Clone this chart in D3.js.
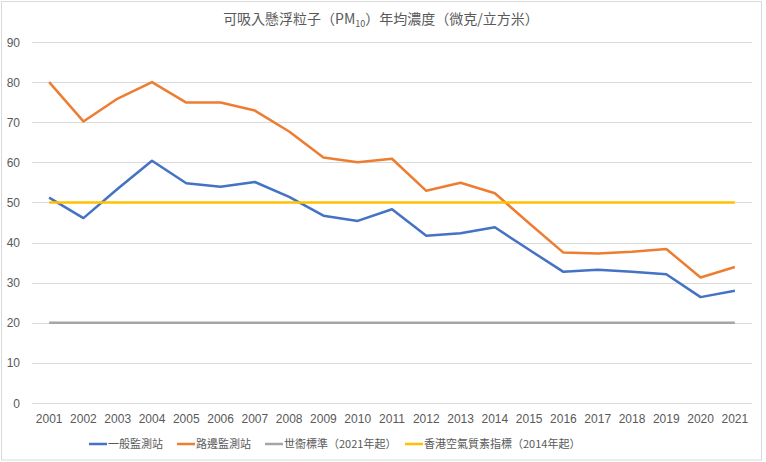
<!DOCTYPE html>
<html><head><meta charset="utf-8">
<script src="https://cdn.jsdelivr.net/npm/d3@7"></script>
<style>
body{margin:0;background:#fff;}
text{font-family:"Liberation Sans Narrow","Liberation Sans","Noto Sans CJK TC",sans-serif;fill:#595959;}
.cjk{font-family:"Liberation Sans Narrow","Noto Sans CJK TC",sans-serif;}
</style></head><body>
<script>
const years = ["2001","2002","2003","2004","2005","2006","2007","2008","2009","2010","2011","2012","2013","2014","2015","2016","2017","2018","2019","2020","2021"];
const generalStations = [51.2,46.1,53.4,60.4,54.8,53.9,55.1,51.4,46.7,45.4,48.3,41.7,42.3,43.8,38.2,32.7,33.2,32.7,32.1,26.4,28.0];
const roadsideStations = [80.0,70.2,75.9,80.0,74.9,74.9,72.9,67.7,61.2,60.0,60.9,52.9,54.9,52.3,44.8,37.5,37.3,37.7,38.4,31.3,33.9];
const whoStandard = years.map(()=>20);
const hkObjective = years.map(()=>50);
const yTicks = [0,10,20,30,40,50,60,70,80,90];
const seriesNames = ["一般監測站","路邊監測站","世衞標準（2021年起）","香港空氣質素指標（2014年起）"];
const colors = ["#4472C4","#ED7D31","#A5A5A5","#FFC000"];

const W=766,H=462;
const svg=d3.select("body").append("svg").attr("width",W).attr("height",H);
svg.append("rect").attr("x",1.5).attr("y",1.5).attr("width",760).attr("height",458.5)
  .attr("fill","#fff").attr("stroke","#D9D9D9");

const x=d3.scalePoint().domain(years).range([32,752]).padding(0.5);
const y=d3.scaleLinear().domain([0,90]).range([403,42]);

// gridlines
svg.append("g").selectAll("line").data(yTicks).join("line")
  .attr("x1",32).attr("x2",752).attr("y1",d=>Math.round(y(d))+0.5).attr("y2",d=>Math.round(y(d))+0.5)
  .attr("stroke","#D9D9D9").attr("stroke-width",1);

// y labels
svg.append("g").selectAll("text").data(yTicks).join("text")
  .attr("x",20).attr("y",d=>y(d)+4.5).attr("text-anchor","end").attr("font-size",12).text(d=>d);

// x labels
svg.append("g").selectAll("text").data(years).join("text")
  .attr("x",d=>x(d)).attr("y",423).attr("text-anchor","middle").attr("font-size",12).text(d=>d);

const line=d3.line().x((d,i)=>x(years[i])).y(d=>y(d));
const all=[generalStations,roadsideStations,whoStandard,hkObjective];
// draw order: gray, blue, orange, yellow
[2,0,1,3].forEach(k=>{
  svg.append("path").datum(all[k]).attr("d",line).attr("fill","none")
    .attr("stroke",colors[k]).attr("stroke-width",2.5).attr("stroke-linejoin","round");
});

// title
const t=svg.append("text").attr("x",381).attr("y",24).attr("text-anchor","middle")
  .attr("font-size",14).attr("class","cjk");
t.append("tspan").text("可吸入懸浮粒子（PM");
t.append("tspan").attr("font-size",9).attr("dy",3).text("10");
t.append("tspan").attr("dy",-3).text("）年均濃度（微克/立方米）");

// legend
const lx=[89,177,265,405];
const lg=svg.append("g");
seriesNames.forEach((n,i)=>{
  lg.append("line").attr("x1",lx[i]).attr("x2",lx[i]+18).attr("y1",444).attr("y2",444)
    .attr("stroke",colors[i]).attr("stroke-width",2.5);
  lg.append("text").attr("x",lx[i]+19).attr("y",448).attr("font-size",11).attr("class","cjk").text(n);
});
</script>
</body></html>
